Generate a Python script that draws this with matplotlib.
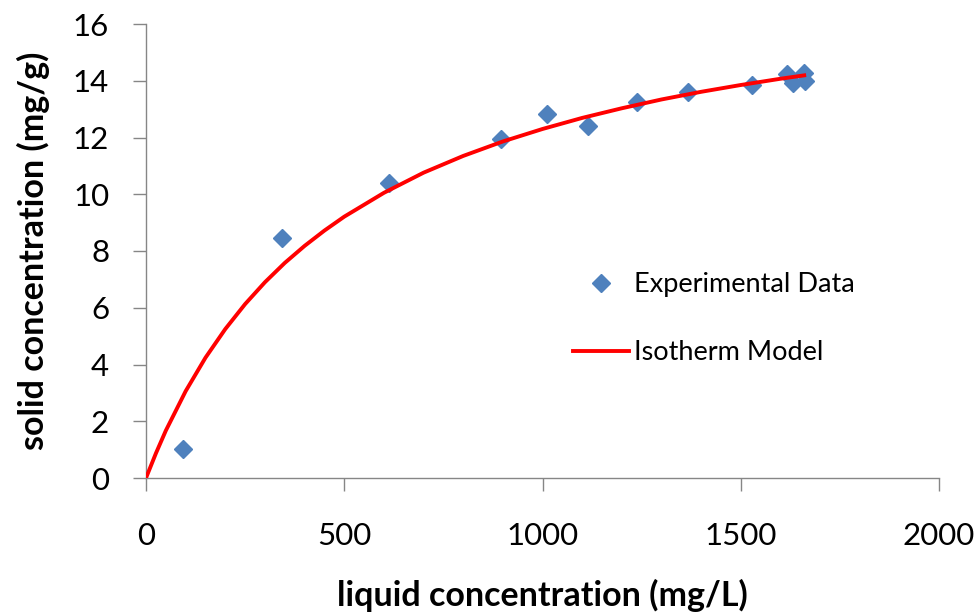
import matplotlib.pyplot as plt

plt.rcParams['font.family'] = ['Lato', 'DejaVu Sans']

exp_x = [93, 343, 613, 895, 1011, 1115, 1238, 1367, 1528, 1617, 1632, 1660, 1662]
exp_y = [1.02, 8.47, 10.41, 11.95, 12.83, 12.41, 13.26, 13.61, 13.85, 14.24, 13.92, 14.28, 14.00]

# --- Isotherm model curve
model_x = [0, 25, 50, 100, 150, 200, 250, 300, 350, 400, 450, 500, 600, 700,
           800, 900, 1000, 1100, 1200, 1300, 1400, 1500, 1600, 1660]
model_y = [0.0, 0.87, 1.67, 3.06, 4.24, 5.25, 6.13, 6.90, 7.58, 8.18, 8.72, 9.21,
           10.05, 10.76, 11.35, 11.86, 12.30, 12.69, 13.03, 13.34, 13.61, 13.85,
           14.07, 14.19]

x_ticks = [0, 500, 1000, 1500, 2000]
y_ticks = [0, 2, 4, 6, 8, 10, 12, 14, 16]

W, H = 979, 614
fig = plt.figure(figsize=(W / 100, H / 100), dpi=100)
ax = fig.add_axes([146 / W, (H - 478) / H, (939 - 146) / W, 454 / H])

ax.plot(exp_x, exp_y, linestyle='none', marker='D', markersize=9.5,
        color='#4F81BD', label='Experimental Data', zorder=3)
ax.plot(model_x, model_y, color='#FF0000', linewidth=2.8,
        label='Isotherm Model', zorder=4)

ax.set_xlim(0, 2000)
ax.set_ylim(0, 16)
ax.set_xticks(x_ticks)
ax.set_yticks(y_ticks)

for side in ['top', 'right']:
    ax.spines[side].set_visible(False)
for side in ['left', 'bottom']:
    ax.spines[side].set_color('#868686')
    ax.spines[side].set_linewidth(1.0)

ax.tick_params(axis='both', direction='out', length=9.5, width=1.0,
               color='#868686', labelsize=22.5, labelcolor='black')
ax.tick_params(axis='x', pad=22)
ax.tick_params(axis='y', pad=17)

ax.set_xlabel('liquid concentration (mg/L)', fontsize=24.5, fontweight='bold')
ax.set_ylabel('solid concentration (mg/g)', fontsize=24.5, fontweight='bold')
ax.xaxis.set_label_coords(0.5, (478 - 579) / 454)
ax.yaxis.set_label_coords((50 - 146) / 793, 0.5)

ax.legend(loc='upper left', bbox_to_anchor=(573 / W, 1 - 272 / H),
          bbox_transform=fig.transFigure, frameon=False, fontsize=19.5,
          handlelength=2.05, handletextpad=0.2, labelspacing=1.6,
          borderpad=0, borderaxespad=0)

fig.savefig('out.png', dpi=100)
